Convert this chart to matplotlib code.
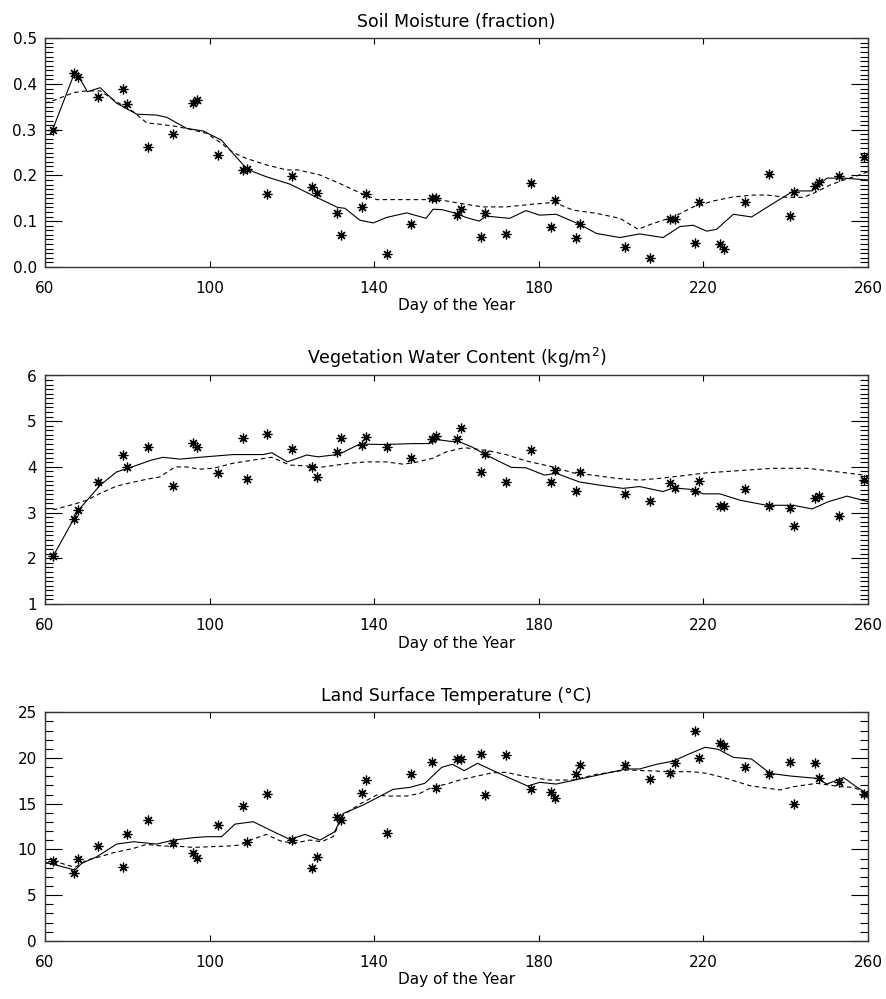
import numpy as np
import matplotlib
matplotlib.use('Agg')
import matplotlib.pyplot as plt
from matplotlib.ticker import MultipleLocator

# observation days (same for all three panels)
days = [62, 67, 68, 73, 79, 80, 85, 91, 96, 97, 102, 108, 109, 114, 120, 125, 126,
        131, 132, 137, 138, 143, 149, 154, 155, 160, 161, 166, 167, 172, 178, 183,
        184, 189, 190, 201, 207, 212, 213, 218, 219, 224, 225, 230, 236, 241, 242,
        247, 248, 253, 259]
x_ticks = [60, 100, 140, 180, 220, 260]

# soil moisture (fraction)
sm_obs = [0.299, 0.425, 0.415, 0.372, 0.388, 0.356, 0.263, 0.291, 0.358, 0.365,
          0.244, 0.212, 0.213, 0.159, 0.199, 0.174, 0.161, 0.117, 0.069, 0.130,
          0.159, 0.029, 0.093, 0.151, 0.150, 0.113, 0.126, 0.065, 0.117, 0.072,
          0.184, 0.088, 0.147, 0.062, 0.093, 0.044, 0.020, 0.104, 0.105, 0.053,
          0.141, 0.050, 0.040, 0.141, 0.202, 0.112, 0.163, 0.177, 0.186, 0.199,
          0.241]
sm_solid_day = [61.5, 67.3, 68.5, 70.3, 73.4, 77.4, 82.3, 87.1, 89.6, 94.4, 98.5, 102.9,
                105.7, 108.6, 110.6, 113.8, 119.5, 126.0, 131.1, 132.9, 136.5, 139.8,
                143.0, 147.9, 152.6, 154.3, 156.5, 159.9, 162.3, 165.5, 167.2, 172.9,
                176.9, 180.2, 184.2, 189.9, 194.0, 199.7, 204.5, 210.2, 214.3, 217.5,
                220.8, 223.2, 227.3, 231.7, 237.0, 241.9, 246.4, 250.0, 254.1, 260.0]
sm_solid = [0.292, 0.427, 0.412, 0.383, 0.392, 0.358, 0.334, 0.332, 0.327, 0.303, 0.297,
            0.277, 0.248, 0.219, 0.208, 0.197, 0.181, 0.152, 0.130, 0.128, 0.102, 0.096,
            0.108, 0.118, 0.106, 0.126, 0.125, 0.117, 0.108, 0.100, 0.111, 0.106,
            0.123, 0.113, 0.115, 0.093, 0.073, 0.064, 0.072, 0.064, 0.088, 0.091,
            0.078, 0.082, 0.115, 0.109, 0.139, 0.166, 0.166, 0.194, 0.194, 0.190]
sm_dash_day = [60.0, 62.4, 66.9, 70.1, 73.4, 77.4, 81.5, 84.7, 87.9, 92.0, 95.2, 99.3,
               102.9, 105.7, 109.0, 113.8, 118.7, 121.5, 126.8, 131.7, 136.5, 140.6,
               146.2, 154.3, 157.0, 160.7, 166.4, 172.0, 178.5, 183.8, 188.3, 194.0,
               199.7, 204.1, 207.8, 212.7, 217.5, 222.4, 227.3, 232.2, 235.4, 240.3,
               244.3, 246.8, 250.8, 254.1, 257.3, 260.0]
sm_dash = [0.358, 0.365, 0.381, 0.385, 0.385, 0.361, 0.339, 0.315, 0.312, 0.307, 0.301,
           0.292, 0.270, 0.250, 0.237, 0.223, 0.212, 0.212, 0.201, 0.182, 0.162, 0.147,
           0.147, 0.147, 0.145, 0.139, 0.131, 0.131, 0.137, 0.141, 0.124, 0.117,
           0.106, 0.082, 0.095, 0.109, 0.131, 0.144, 0.153, 0.157, 0.157, 0.152,
           0.152, 0.161, 0.179, 0.190, 0.199, 0.208]

# vegetation water content (kg/m2)
vwc_obs = [2.05, 2.86, 3.06, 3.66, 4.27, 4.00, 4.44, 3.58, 4.53, 4.43, 3.87, 4.64, 3.73,
           4.72, 4.40, 3.99, 3.77, 4.32, 4.64, 4.48, 4.66, 4.43, 4.20, 4.60, 4.68,
           4.62, 4.86, 3.89, 4.29, 3.66, 4.38, 3.66, 3.93, 3.48, 3.89, 3.41, 3.26,
           3.65, 3.54, 3.48, 3.70, 3.14, 3.15, 3.51, 3.14, 3.11, 2.71, 3.33, 3.37,
           2.92, 3.71]
vwc_solid_day = [62.0, 67.3, 68.5, 73.4, 77.4, 80.2, 85.9, 88.7, 92.8, 97.6, 105.7, 113.0,
                 115.1, 118.9, 123.6, 126.4, 130.9, 132.2, 136.5, 142.2, 149.5, 153.5,
                 155.1, 158.4, 160.7, 163.9, 167.2, 173.3, 176.9, 181.4, 184.2, 189.9,
                 194.8, 200.5, 204.5, 210.2, 212.7, 216.7, 220.0, 224.0, 228.9, 235.4,
                 241.9, 246.4, 250.4, 254.9, 260.0]
vwc_solid = [2.05, 2.91, 3.09, 3.60, 3.89, 3.97, 4.15, 4.21, 4.17, 4.21, 4.27, 4.27,
             4.31, 4.11, 4.26, 4.22, 4.27, 4.31, 4.50, 4.49, 4.51, 4.51, 4.60, 4.56,
             4.55, 4.43, 4.26, 3.99, 3.98, 3.82, 3.86, 3.67, 3.60, 3.53, 3.57, 3.46,
             3.54, 3.51, 3.41, 3.41, 3.27, 3.16, 3.16, 3.08, 3.24, 3.36, 3.24]
vwc_dash_day = [60.0, 62.4, 67.3, 70.1, 73.4, 77.4, 80.2, 84.7, 87.9, 91.6, 94.4, 97.6,
                100.9, 105.7, 110.6, 115.1, 119.5, 123.6, 126.8, 130.9, 134.1, 138.1,
                142.9, 147.0, 149.5, 154.3, 157.5, 161.9, 163.9, 168.0, 172.0, 176.9,
                183.4, 188.3, 193.1, 198.8, 204.5, 209.4, 214.3, 220.8, 228.9, 237.0,
                245.2, 250.0, 260.0]
vwc_dash = [3.09, 3.07, 3.19, 3.27, 3.42, 3.58, 3.64, 3.73, 3.78, 4.00, 4.00, 3.95,
            3.97, 4.08, 4.15, 4.21, 4.04, 4.02, 3.99, 4.04, 4.08, 4.11, 4.11, 4.06,
            4.09, 4.19, 4.33, 4.42, 4.40, 4.35, 4.27, 4.13, 4.00, 3.87, 3.82, 3.75,
            3.71, 3.75, 3.80, 3.87, 3.92, 3.97, 3.97, 3.92, 3.81]

# land surface temperature (C)
lst_obs = [8.72, 7.45, 8.91, 10.40, 8.03, 11.64, 13.21, 10.73, 9.56, 9.01, 12.66, 14.78,
           10.77, 16.06, 11.02, 7.92, 9.20, 13.58, 13.21, 16.20, 17.59, 11.75, 18.21,
           19.53, 16.75, 19.89, 19.89, 20.44, 15.95, 20.33, 16.61, 16.24, 15.58, 18.21,
           19.23, 19.23, 17.70, 18.32, 19.42, 22.99, 19.96, 21.68, 21.35, 19.05, 18.25,
           19.53, 14.93, 19.42, 17.77, 17.41, 16.06]
lst_solid_day = [60.0, 67.3, 68.9, 72.6, 77.4, 81.5, 87.1, 91.2, 96.0, 99.3, 102.9, 106.2,
                 110.6, 114.7, 119.5, 123.2, 126.8, 130.4, 132.5, 137.3, 144.6, 148.7,
                 152.3, 156.4, 159.0, 161.9, 165.1, 170.0, 177.3, 180.2, 184.2, 189.9,
                 195.6, 201.3, 204.5, 208.6, 212.7, 216.3, 220.4, 223.6, 227.3, 231.7,
                 236.2, 241.1, 247.6, 250.0, 254.1, 256.9, 260.0]
lst_solid = [8.6, 7.74, 8.47, 9.20, 10.58, 10.84, 10.58, 11.02, 11.28, 11.39, 11.39,
             12.77, 13.03, 12.12, 11.09, 11.64, 11.02, 11.93, 13.94, 14.85, 16.57, 16.79,
             17.23, 18.98, 19.31, 18.61, 19.42, 18.39, 16.93, 17.34, 17.15, 17.70,
             18.25, 18.80, 18.80, 19.31, 19.67, 20.40, 21.17, 20.95, 20.07, 19.89,
             18.32, 18.03, 17.77, 17.15, 17.85, 16.93, 16.06]
lst_dash_day = [60.0, 63.2, 67.3, 70.1, 73.4, 76.6, 81.5, 84.7, 88.7, 92.0, 96.0, 104.1,
                107.4, 110.6, 113.8, 117.1, 120.3, 124.4, 127.2, 130.0, 132.5, 136.5,
                140.6, 143.0, 147.9, 151.1, 154.3, 157.5, 160.7, 165.5, 168.8, 172.0,
                176.9, 182.6, 188.3, 194.0, 201.3, 206.2, 212.7, 217.5, 220.8, 225.6,
                231.3, 238.6, 241.9, 247.6, 253.3, 256.5, 260.0]
lst_dash = [8.47, 8.58, 8.03, 8.83, 9.20, 9.64, 10.11, 10.55, 10.36, 10.36, 10.22, 10.36,
            10.47, 11.13, 11.64, 10.95, 10.66, 11.02, 10.84, 11.39, 13.76, 14.96, 15.95,
            15.84, 15.84, 16.13, 16.86, 17.13, 17.59, 18.07, 18.39, 18.43, 17.96, 17.59,
            17.59, 18.21, 18.69, 18.61, 18.50, 18.50, 18.32, 17.77, 16.97, 16.50, 16.86,
            17.23, 16.86, 16.79, 16.06]

W, H = 886, 999
LEFT, RIGHT = 45, 868   # pixel edges of the plot boxes
FS = 11


def draw_panel(fig, top_px, title, obs, solid_day, solid, dash_day, dash,
               ylim, major, minor, fmt):
    """one IDL-style panel: asterisks for observations, solid + dashed curves"""
    h_px = 228.5
    ax = fig.add_axes([LEFT / W, 1 - (top_px + h_px) / H,
                       (RIGHT - LEFT) / W, h_px / H])
    ax.plot(solid_day, solid, color='black', lw=0.8)
    ax.plot(dash_day, dash, color='black', lw=0.8, linestyle=(0, (4, 3)))
    ax.plot(days, obs, linestyle='none', marker=(8, 2, 0), markersize=7,
            markeredgewidth=0.9, color='black')

    ax.set_xlim(60, 260)
    ax.set_ylim(*ylim)
    ax.set_xticks(x_ticks)
    ax.yaxis.set_major_locator(MultipleLocator(major))
    ax.yaxis.set_minor_locator(MultipleLocator(minor))
    ax.yaxis.set_major_formatter(fmt)
    ax.tick_params(axis='x', which='both', direction='in', top=True, length=4.5,
                   width=0.8, pad=10, labelsize=FS)
    ax.tick_params(axis='y', which='major', direction='in', right=True, length=12.5,
                   width=0.8, pad=6, labelsize=FS)
    ax.tick_params(axis='y', which='minor', direction='in', right=True, length=6,
                   width=0.8)
    for s in ax.spines.values():
        s.set_linewidth(1.0)
        s.set_color('#333333')
    ax.set_title(title, fontsize=12.5, pad=8)
    ax.set_xlabel('Day of the Year', fontsize=FS, labelpad=2)
    return ax


fig = plt.figure(figsize=(W / 100, H / 100), dpi=100)
draw_panel(fig, 38.3, 'Soil Moisture (fraction)', sm_obs, sm_solid_day, sm_solid,
           sm_dash_day, sm_dash, (0, 0.5), 0.1, 0.01, '{x:.1f}')
draw_panel(fig, 375.5, 'Vegetation Water Content (kg/m$^2$)', vwc_obs, vwc_solid_day,
           vwc_solid, vwc_dash_day, vwc_dash, (1, 6), 1, 0.1, '{x:.0f}')
draw_panel(fig, 712.3, 'Land Surface Temperature (°C)', lst_obs, lst_solid_day,
           lst_solid, lst_dash_day, lst_dash, (0, 25), 5, 1, '{x:.0f}')

fig.savefig('out.png', dpi=100)
